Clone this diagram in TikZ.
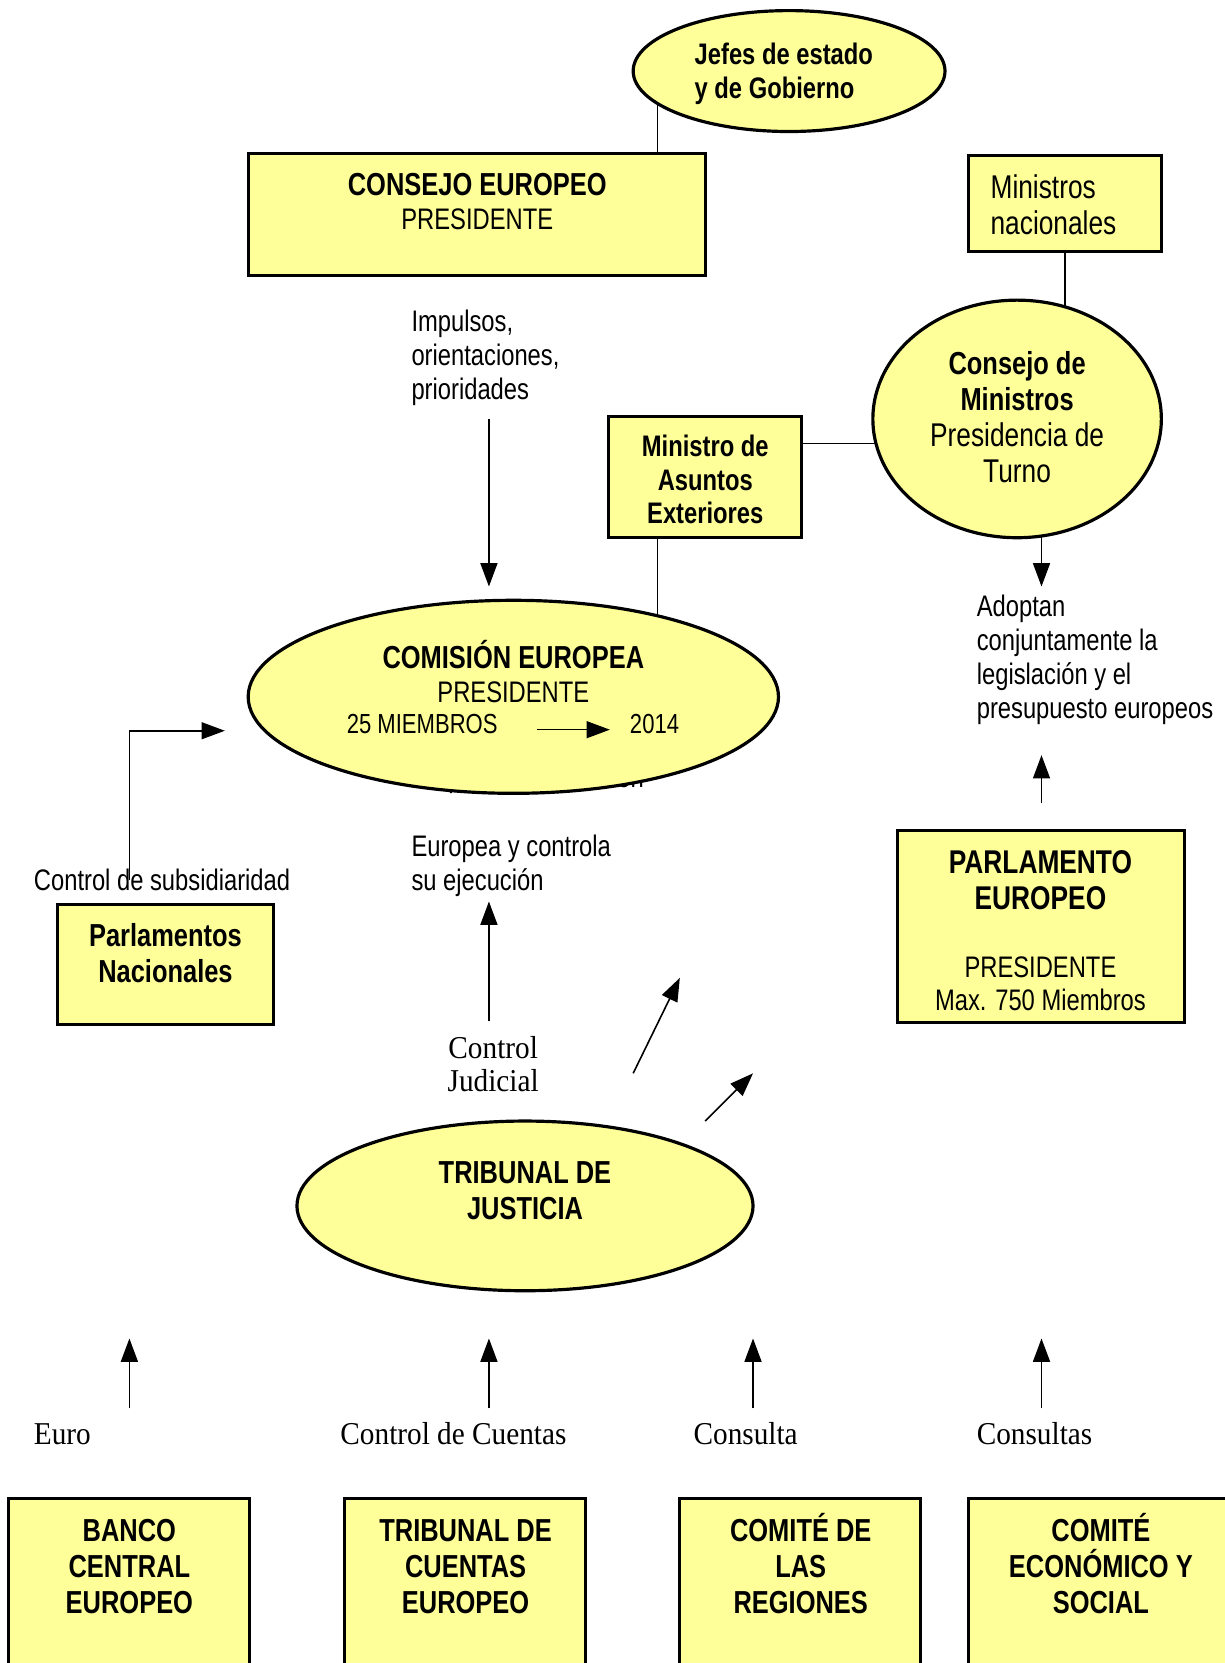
\documentclass[tikz,border=0pt]{standalone}
\usepackage{fontspec}
\setmainfont{Liberation Sans}[FakeStretch=0.8]
\newfontfamily\serifface{Liberation Serif}[FakeStretch=0.92]
\usetikzlibrary{arrows.meta,shapes.geometric,calc}
\definecolor{fillc}{RGB}{255,255,153}
\newcommand\rgtxt{\fontsize{28}{32}\selectfont}
\newcommand\rgtxtw{\fontsize{31}{34}\selectfont}
\newcommand\smtxt{\fontsize{26}{30}\selectfont}
\newcommand\bdtxt{\fontsize{30}{34}\selectfont\bfseries}
\newcommand\bdtxtl{\fontsize{31}{34}\selectfont\bfseries}
\newcommand\bdtxts{\fontsize{28}{32}\selectfont\bfseries}
\newcommand\srtxt{\serifface\fontsize{30}{31}\selectfont}
\pgfdeclarelayer{bg}\pgfsetlayers{bg,main}
\begin{document}
\begin{tikzpicture}[x=1pt,y=1pt,
  boxn/.style={draw, line width=3pt, fill=fillc, inner sep=0pt, outer sep=0pt},
  elln/.style={ellipse, draw, line width=3pt, fill=fillc, inner sep=0pt, outer sep=0pt},
  txt/.style={inner sep=0pt, outer sep=0pt},
  conn/.style={line width=1.5pt},
  arr/.style={line width=1.5pt, -{Triangle[length=22pt,width=16pt]}}]
\useasboundingbox (0,0) rectangle (1155,-1568);
\clip (0,0) rectangle (1155,-1568);

% hidden text behind the Commission ellipse
\node[txt, anchor=west, font=\rgtxt] (thidden) at (388,-735) {Propone la legislación};

% shapes
\node[elln, minimum width=294pt, minimum height=114pt] (jefes) at (744,-67) {};
\node[boxn, minimum width=431pt, minimum height=115pt] (consejoE) at (449.5,-202.5) {};
\node[boxn, minimum width=182pt, minimum height=90pt] (minnac) at (1004,-192) {};
\node[elln, minimum width=272pt, minimum height=224pt] (consejoM) at (959,-395) {};
\node[boxn, minimum width=182pt, minimum height=114pt] (asuntos) at (665,-450) {};
\node[elln, minimum width=500pt, minimum height=182pt] (comision) at (484,-657) {};
\node[boxn, minimum width=204pt, minimum height=113pt] (parlnac) at (156,-909.5) {};
\node[boxn, minimum width=271pt, minimum height=181pt] (parleu) at (981.5,-873.5) {};
\node[elln, minimum width=430pt, minimum height=160pt] (tribj) at (495,-1137) {};
\node[boxn, minimum width=227pt, minimum height=200pt, anchor=north] (bce) at (121.5,-1413) {};
\node[boxn, minimum width=227pt, minimum height=200pt, anchor=north] (tce) at (438.5,-1413) {};
\node[boxn, minimum width=227pt, minimum height=200pt, anchor=north] (cdr) at (754.5,-1413) {};
\node[boxn, minimum width=252pt, minimum height=200pt, anchor=north] (ces) at (1039,-1413) {};

% texts
\node[txt, anchor=west, align=left, font=\bdtxts] (tjefes) at (655,-70) {Jefes de estado\\y de Gobierno};
\node[txt, align=center, font=\rgtxt] (tconsejoE) at (450,-190) {{\bdtxt CONSEJO EUROPEO}\\PRESIDENTE};
\node[txt, anchor=west, align=left, font=\rgtxtw] (tminnac) at (934,-193) {Ministros\\nacionales};
\node[txt, align=center, font=\rgtxtw] (tconsejoM) at (959,-393.5) {{\bdtxt Consejo de}\\{\bdtxt Ministros}\\Presidencia de\\Turno};
\node[txt, align=center, font=\bdtxts] (tasuntos) at (665,-452) {Ministro de\\Asuntos\\Exteriores};
\node[txt, anchor=west, align=left, font=\rgtxt] (timpulsos) at (388,-337) {Impulsos,\\orientaciones,\\prioridades};
\node[txt, align=center, font=\rgtxt] (tcomision) at (484,-633.5) {{\bdtxt COMISIÓN EUROPEA}\\PRESIDENTE};
\node[txt, anchor=west, font=\smtxt] (t25) at (327,-683) {25 MIEMBROS};
\node[txt, anchor=west, font=\smtxt] (t2014) at (594,-683) {2014};
\node[txt, anchor=west, align=left, font=\rgtxt] (teuropea) at (388,-816) {Europea y controla\\su ejecución};
\node[txt, align=center, font=\srtxt] (tcontrolj) at (465,-1003.5) {Control\\Judicial};
\node[txt, anchor=west, font=\rgtxt] (tsubsid) at (32,-830) {Control de subsidiaridad};
\node[txt, align=center, font=\bdtxt] (tparlnac) at (156,-899) {Parlamentos\\Nacionales};
\node[txt, anchor=west, align=left, font=\rgtxt] (tadoptan) at (921,-622.5) {Adoptan\\conjuntamente la\\legislación y el\\presupuesto europeos};
\node[txt, align=center, font=\bdtxtl] (tparleu1) at (981,-829.5) {PARLAMENTO\\EUROPEO};
\node[txt, align=center, font=\fontsize{28}{31}\selectfont] (tparleu2) at (981,-927.5) {PRESIDENTE\\Max. 750 Miembros};
\node[txt, align=center, font=\bdtxt] (ttribj) at (495,-1123) {TRIBUNAL DE\\JUSTICIA};
\node[txt, anchor=west, font=\srtxt] (teuro) at (32,-1352) {Euro};
\node[txt, anchor=west, font=\srtxt] (tcuentas) at (321,-1352) {Control de Cuentas};
\node[txt, anchor=west, font=\srtxt] (tconsulta) at (654,-1352) {Consulta};
\node[txt, anchor=west, font=\srtxt] (tconsultas) at (921,-1352) {Consultas};
\node[txt, align=center, font=\bdtxt] (tbce) at (122,-1474) {\vphantom{É}BANCO\\CENTRAL\\EUROPEO};
\node[txt, align=center, font=\bdtxt] (ttce) at (439,-1474) {\vphantom{É}TRIBUNAL DE\\CUENTAS\\EUROPEO};
\node[txt, align=center, font=\bdtxt] (tcdr) at (755,-1474) {\vphantom{É}COMITÉ DE\\LAS\\REGIONES};
\node[txt, align=center, font=\bdtxt] (tces) at (1038,-1474) {\vphantom{É}COMITÉ\\ECONÓMICO Y\\SOCIAL};

% free arrow end points
\coordinate (a1s) at (461,-395);  \coordinate (a1e) at (461,-553);
\coordinate (a2s) at (461,-963);  \coordinate (a2e) at (461,-850);
\coordinate (a3s) at (597,-1012); \coordinate (a3e) at (641,-922);
\coordinate (a4s) at (665,-1057); \coordinate (a4e) at (710,-1012);
\coordinate (a5s) at (122,-830);  \coordinate (a5e) at (212,-689);
\coordinate (a6e) at (982,-553);
\coordinate (a7s) at (982,-757);  \coordinate (a7e) at (982,-712);
\coordinate (ims) at (506,-688);  \coordinate (ime) at (575,-688);

% background and connectors behind shapes
\begin{pgfonlayer}{bg}
\fill[white] (0,0) rectangle (1155,-1568);
\draw[conn] (consejoE.north -| 620,0) -- (620,-67);
\draw[conn] (minnac.south -| 1004,0) -- (1004,-395);
\draw[conn] (asuntos.east |- 0,-418) -- (consejoM.center |- 0,-418);
\draw[conn] (asuntos.south -| 620,0) -- (620,-657);
\draw[arr] (982,-420) -- (a6e);
\end{pgfonlayer}

\draw[arr] (a1s) -- (a1e);
\draw[arr] (a2s) -- (a2e);
\draw[arr] (a3s) -- (a3e);
\draw[arr] (a4s) -- (a4e);
\draw[arr] (a5s) |- (a5e);
\draw[arr] (a7s) -- (a7e);
\draw[arr] (ims) -- (ime);
\foreach \xx/\nm in {122/b1,461/b2,710/b3,982/b4}{
  \coordinate (\nm s) at (\xx,-1328);
  \coordinate (\nm e) at (\xx,-1262);
  \draw[arr] (\nm s) -- (\nm e);
}
\end{tikzpicture}
\end{document}
